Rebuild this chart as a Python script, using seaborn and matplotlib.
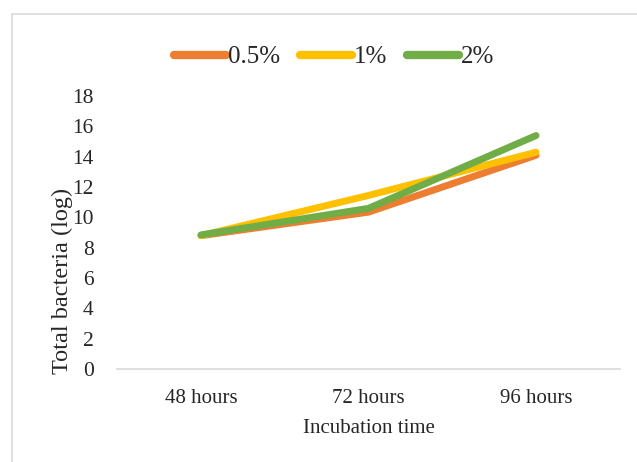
import numpy as np
import pandas as pd
import seaborn as sns
import matplotlib.pyplot as plt
from matplotlib.patches import Rectangle

# data
times = ['48 hours', '72 hours', '96 hours']
conc_05 = [8.8, 10.35, 14.1]
conc_1 = [8.8, 11.45, 14.3]
conc_2 = [8.85, 10.6, 15.4]
series_names = ['0.5%', '1%', '2%']
colors = ['#ED7D31', '#FFC000', '#70AD47']

df = pd.DataFrame({
    'time': times * 3,
    'value': conc_05 + conc_1 + conc_2,
    'series': np.repeat(series_names, len(times)),
})

sns.set_style('white')
plt.rcParams['font.family'] = ['Liberation Serif', 'DejaVu Serif']

fig = plt.figure(figsize=(6.37, 4.62), dpi=100)
ax = fig.add_axes([0.184, 0.201, 0.789, 0.591])

sns.lineplot(data=df, x='time', y='value', hue='series', palette=colors,
             sort=False, linewidth=5, ax=ax, legend=True)
for ln in ax.get_lines():
    ln.set_solid_capstyle('round')
    ln.set_solid_joinstyle('round')

ax.set_xlim(-0.5, 2.5)
ax.set_ylim(0, 18)
ax.set_yticks(range(0, 19, 2))
ax.tick_params(axis='y', labelsize=15.5, length=0, pad=17)
ax.tick_params(axis='x', labelsize=15, length=0, pad=14)
for s in ['top', 'right', 'left']:
    ax.spines[s].set_visible(False)
ax.spines['bottom'].set_color('#d9d9d9')
ax.spines['bottom'].set_linewidth(1.2)
ax.set_xlabel('Incubation time', fontsize=15, labelpad=8)
ax.set_ylabel('Total bacteria (log)', fontsize=17.5)
ax.yaxis.set_label_coords(-0.088, 0.322)

handles, labels = ax.get_legend_handles_labels()
for h in handles:
    h.set_solid_capstyle('round')
    h.set_linewidth(6)
leg = fig.legend(handles, labels, loc='center', bbox_to_anchor=(334 / 637, 1 - 57 / 462),
                 ncol=3, frameon=False, fontsize=18, handlelength=2.1,
                 handletextpad=0.05, columnspacing=0.8)
ax.get_legend().remove()

# light chart border
fig.patches.append(Rectangle((12 / 637, -0.1), 1.2, 1 - 14 / 462 + 0.1,
                             transform=fig.transFigure, fill=False,
                             edgecolor='#d9d9d9', linewidth=1.2))

plt.savefig('out.png', dpi=100)
